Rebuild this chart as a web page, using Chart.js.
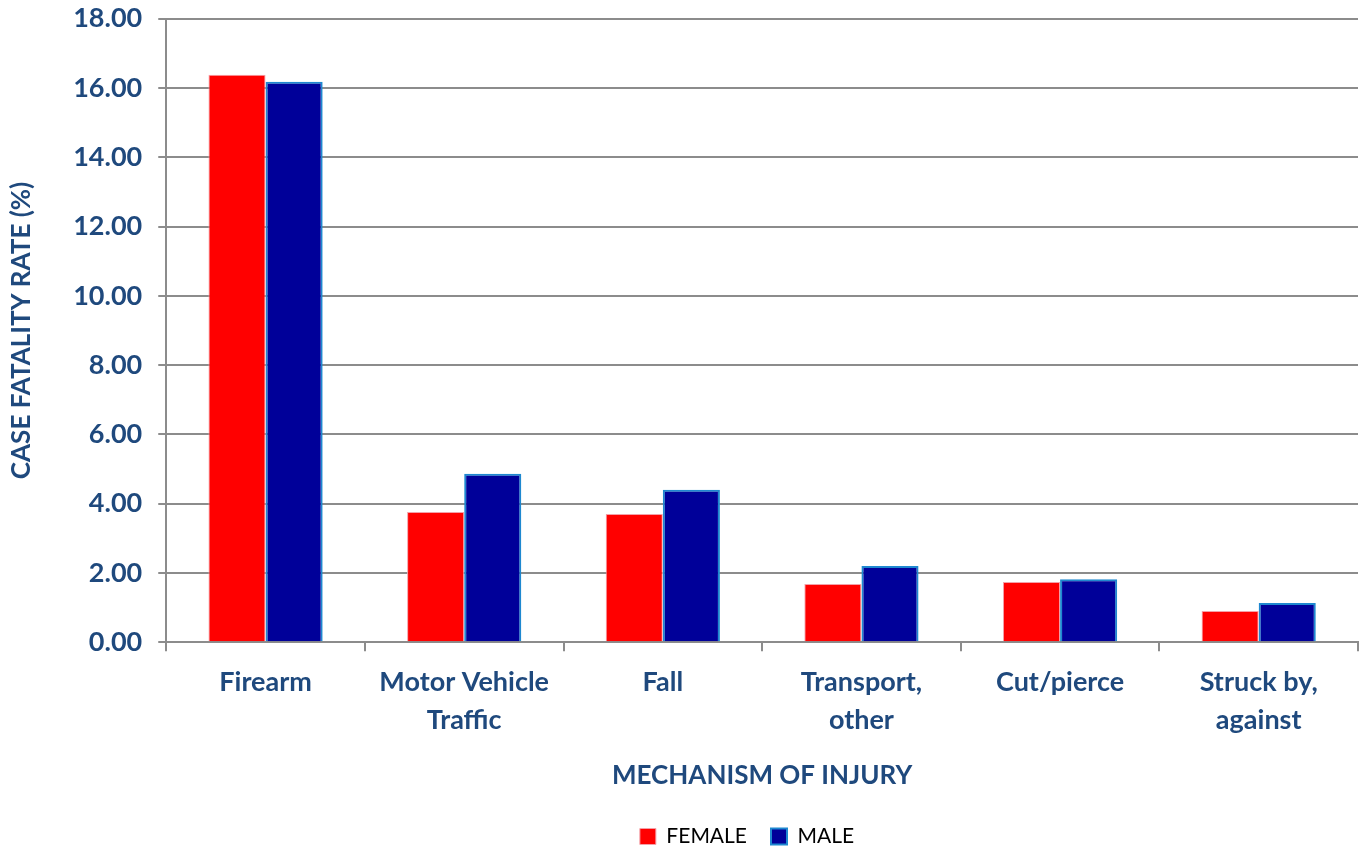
<!DOCTYPE html>
<html>
<head>
<meta charset="utf-8">
<script src="https://cdn.jsdelivr.net/npm/chart.js@4.4.0/dist/chart.umd.min.js"></script>
<style>
  html, body { margin: 0; padding: 0; background: #fff; }
  #wrap { width: 1365px; height: 850px; }
</style>
</head>
<body>
<div id="wrap"><canvas id="cfrChart" width="1365" height="850"></canvas></div>
<script>
const categories = [['Firearm'], ['Motor Vehicle', 'Traffic'], ['Fall'], ['Transport,', 'other'], ['Cut/pierce'], ['Struck by,', 'against']];
const femaleRates = [16.38, 3.76, 3.70, 1.68, 1.74, 0.90];
const maleRates = [16.18, 4.86, 4.40, 2.20, 1.82, 1.13];
const yTicks = [0, 2, 4, 6, 8, 10, 12, 14, 16, 18];

const navy = '#1F497D';
const ctx = document.getElementById('cfrChart').getContext('2d');

// legend padding is shared between the item gap and the box height,
// so trim the box height back after the legend has been fitted,
// and nudge the legend right so it sits under the plot area
const tightLegend = {
    id: 'tightLegend',
    beforeLayout(chart) {
        const legend = chart.legend;
        if (!legend || legend._trimmed) return;
        const fit = legend.fit;
        legend.fit = function () {
            fit.call(this);
            this.height -= 7;
        };
        legend._trimmed = true;
    },
    afterLayout(chart) {
        const legend = chart.legend;
        if (!legend) return;
        legend.left += 66;
        legend.right += 66;
    }
};

const cfrChart = new Chart(ctx, {
    type: 'bar',
    data: {
        labels: categories,
        datasets: [{
            label: 'FEMALE',
            data: femaleRates,
            backgroundColor: '#FF0000',
            borderColor: '#F4A0A8',
            borderWidth: 1
        }, {
            label: 'MALE',
            data: maleRates,
            backgroundColor: '#000099',
            borderColor: '#1E88D0',
            borderWidth: 2
        }]
    },
    plugins: [tightLegend],
    options: {
        responsive: false,
        animation: false,
        layout: { padding: { top: 0, right: 7, left: 4, bottom: 0 } },
        datasets: {
            bar: { categoryPercentage: 0.575, barPercentage: 1.0 }
        },
        plugins: {
            legend: {
                position: 'bottom',
                labels: {
                    color: '#000',
                    font: { family: 'Lato', size: 21 },
                    boxWidth: 16,
                    boxHeight: 16,
                    padding: 24
                }
            },
            tooltip: { enabled: false }
        },
        scales: {
            x: {
                offset: true,
                grid: {
                    offset: true,
                    drawOnChartArea: false,
                    color: '#8c8c8c',
                    lineWidth: 2,
                    tickLength: 9
                },
                border: { color: '#8c8c8c', width: 2 },
                ticks: {
                    color: navy,
                    font: { family: 'Lato', size: 27, weight: 'bold', lineHeight: 1.4 },
                    padding: 12,
                    maxRotation: 0
                },
                title: {
                    display: true,
                    text: 'MECHANISM OF INJURY',
                    color: navy,
                    font: { family: 'Lato', size: 26, weight: 'bold' },
                    padding: { top: 9, bottom: 11 }
                }
            },
            y: {
                min: 0,
                max: 18,
                afterBuildTicks: axis => { axis.ticks = yTicks.map(v => ({ value: v })); },
                grid: {
                    color: '#8c8c8c',
                    lineWidth: 2,
                    tickLength: 8
                },
                border: { color: '#8c8c8c', width: 2 },
                ticks: {
                    color: navy,
                    font: { family: 'Lato', size: 27, weight: 'bold', lineHeight: 0.2 },
                    padding: 16,
                    callback: v => Number(v).toFixed(2)
                },
                title: {
                    display: true,
                    text: 'CASE FATALITY RATE (%)',
                    color: navy,
                    font: { family: 'Lato', size: 26, weight: 'bold' },
                    padding: { top: 2, bottom: 20 }
                }
            }
        }
    }
});
</script>
</body>
</html>
